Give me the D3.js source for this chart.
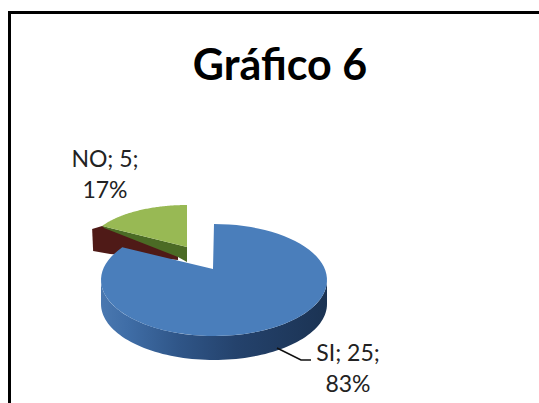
<!DOCTYPE html>
<html>
<head>
<meta charset="utf-8">
<script src="https://cdn.jsdelivr.net/npm/d3@7/dist/d3.min.js"></script>
<style>
html,body{margin:0;padding:0;background:#fff}
svg{display:block}
text{font-family:Lato,"Open Sans",sans-serif;fill:#222}
</style>
</head>
<body>
<svg id="chart" width="539" height="403"></svg>
<script>
const categories = ["SI", "NO"];
const values = [25, 5];
const percents = ["83%", "17%"];
const titleText = "Gráfico 6";

const svg = d3.select("#chart");
const defs = svg.append("defs");

// Panel outline: only the left and top edges fall inside the page
svg.append("path")
  .attr("d", d3.line()([[9.5, 403], [9.5, 12.5], [539, 12.5]]))
  .attr("fill", "none").attr("stroke", "#000").attr("stroke-width", 3);

svg.append("text").attr("x", 280).attr("y", 79.5)
  .attr("text-anchor", "middle")
  .attr("font-size", 43).attr("font-weight", 700)
  .style("fill", "#000").text(titleText);

const pie = d3.pie().sort(null).value(d => d);
const arcs = pie(values);

// The tilted view stretches angles slightly towards the back of the disc
const viewAngle = d3.scaleLinear().domain([0, 2 * Math.PI]).range([0, 2 * Math.PI + 0.12]);

// Elliptical rim points for a slice, clockwise from 12 o'clock
function rim(c, a0, a1) {
  const n = 80;
  return d3.range(n + 1).map(i => {
    const a = a0 + (a1 - a0) * i / n;
    return [c.cx + c.rx * Math.sin(a), c.cy - c.ry * Math.cos(a)];
  });
}
const line = d3.line();

// Side wall shading of the large slice
const sideGrad = defs.append("linearGradient").attr("id", "blueSide")
  .attr("x1", 0).attr("x2", 1).attr("y1", 0).attr("y2", 0);
[[0, "#4a78b0"], [0.12, "#3f6da6"], [0.35, "#2f5587"], [0.6, "#24426c"], [1, "#1b3353"]]
  .forEach(([o, c]) => sideGrad.append("stop").attr("offset", o).attr("stop-color", c));

// Small slice, pulled away from the large one
const no = { cx: 187, cy: 247, rx: 98, ry: 42, depth: 15 };
const noRim = rim(no, arcs[1].startAngle, arcs[1].endAngle);
const noLeft = noRim[0];
const apex = [no.cx, no.cy];

// Dark inner wall showing behind the small slice
const wallBack = [noLeft[0] - 10, noLeft[1] + 3];
const wallLow = [wallBack[0] + 1, wallBack[1] + 22];
svg.append("path")
  .attr("d", line([wallBack, wallLow, [wallBack[0] + 18, wallBack[1] + 25],
                   [apex[0] - 9, apex[1] + 13], [apex[0] - 9, apex[1] + 5], noLeft]) + "Z")
  .attr("fill", "#4f1a17");
// Cut-face of the small slice
svg.append("path")
  .attr("d", line([noLeft, apex, [apex[0], apex[1] + no.depth], [apex[0] - 9, apex[1] + 10], [noLeft[0] + 2, noLeft[1] + 2]]) + "Z")
  .attr("fill", "#4b6b25");
svg.append("path")
  .attr("d", line([apex, ...noRim]) + "Z")
  .attr("fill", "#98b954");

// Large slice
const si = { cx: 214, cy: 280, rx: 113, ry: 56, depth: 24, ax: 213, ay: 269 };
const siRim = rim(si, viewAngle(arcs[0].startAngle), viewAngle(arcs[0].endAngle));
const lower = rim(si, Math.PI / 2, Math.PI * 1.5);
const lowerDown = lower.map(([x, y]) => [x, y + si.depth]).reverse();
svg.append("path")
  .attr("d", line([...lower, ...lowerDown]) + "Z")
  .attr("fill", "url(#blueSide)");
svg.append("path")
  .attr("d", line([[si.ax, si.ay], ...siRim]) + "Z")
  .attr("fill", "#4a7ebb");

// Leader from the large slice to its label
svg.append("path")
  .attr("d", line([[277, 348], [301, 360], [311, 360]]))
  .attr("fill", "none").attr("stroke", "#111").attr("stroke-width", 1.6);

const labels = [
  { i: 0, x: 348, y: 361 },
  { i: 1, x: 105, y: 167 }
];
labels.forEach(({ i, x, y }) => {
  const t = svg.append("text").attr("text-anchor", "middle").attr("font-size", 23);
  t.append("tspan").attr("x", x).attr("y", y)
    .text(`${categories[i]}; ${values[i]};`);
  t.append("tspan").attr("x", x).attr("y", y + 31).text(percents[i]);
});
</script>
</body>
</html>
